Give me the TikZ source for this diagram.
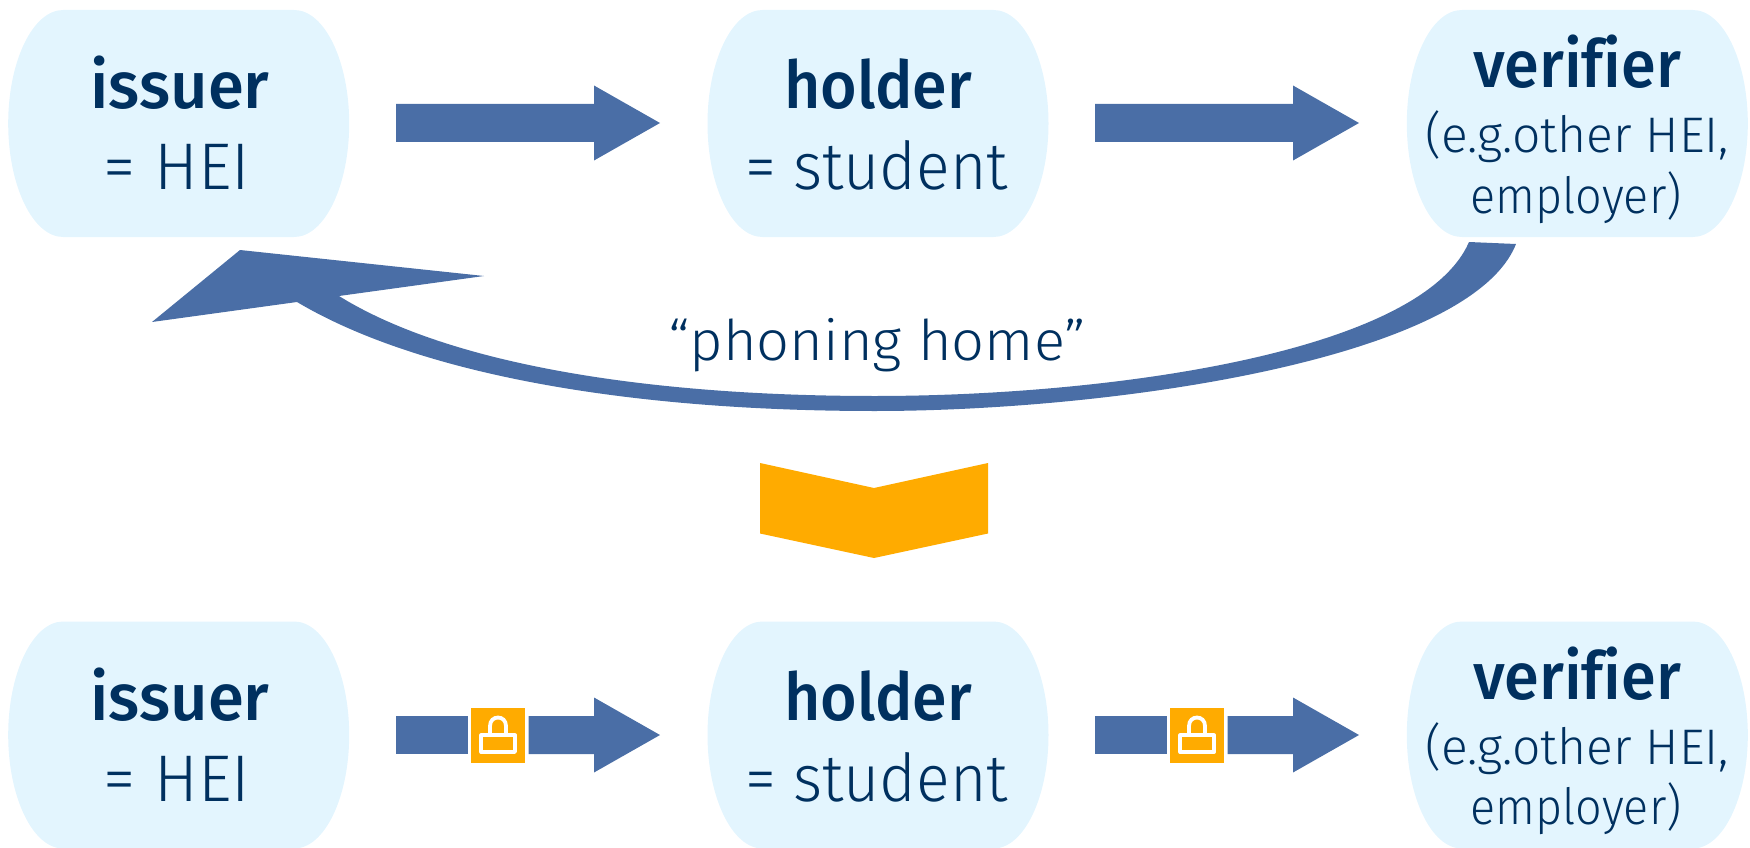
\documentclass[tikz,border=0pt]{standalone}
\usepackage{fontspec}
\setmainfont{Fira Sans Light}[Ligatures=NoCommon]
\newfontfamily\medfont{Fira Sans Medium}[Ligatures=NoCommon]
\definecolor{boxfill}{HTML}{E3F5FE}
\definecolor{navy}{HTML}{00305F}
\definecolor{arrowblue}{HTML}{4A6EA6}
\definecolor{amber}{HTML}{FFAB00}
\newcommand{\fit}[2]{\resizebox{#1pt}{\height}{#2}}
\tikzset{
  lbl/.style={anchor=base,inner sep=0pt,text=navy},
  big/.style={lbl,font=\fontsize{66}{70}\selectfont},
  bigbold/.style={lbl,font=\fontsize{66}{70}\selectfont\medfont},
  small/.style={lbl,font=\fontsize{50}{60}\selectfont},
  phone/.style={lbl,font=\fontsize{56}{60}\selectfont},
  softbox/.pic={
    \fill[boxfill] (-115.5,-113.5) -- (115.5,-113.5)
      .. controls (146,-113.5) and (170.5,-62) .. (170.5,0)
      .. controls (170.5,62) and (146,113.5) .. (115.5,113.5)
      -- (-115.5,113.5)
      .. controls (-146,113.5) and (-170.5,62) .. (-170.5,0)
      .. controls (-170.5,-62) and (-146,-113.5) .. (-115.5,-113.5) -- cycle;
  },
  plainarrow/.pic={
    \fill[arrowblue] (0,-19) -- (198,-19) -- (198,-37.5) -- (264,0) -- (198,37.5) -- (198,19) -- (0,19) -- cycle;
  },
  lockarrow/.pic={
    \fill[arrowblue] (0,-19) -- (71.7,-19) -- (71.7,19) -- (0,19) -- cycle;
    \fill[arrowblue] (132.7,-19) -- (198,-19) -- (198,-37.5) -- (264,0) -- (198,37.5) -- (198,19) -- (132.7,19) -- cycle;
    \fill[amber] (75.3,-27.5) rectangle (129,27.5);
    \draw[white,line width=3.8pt,line join=round] (85.3,0.3) rectangle (119,17);
    \draw[white,line width=3.8pt] (94,0.3) -- (94,-9)
      .. controls (94,-20.3) and (110,-20.3) .. (110,-9) -- (110,0.3);
  }
}
\begin{document}
\begin{tikzpicture}[x=1pt,y=-1pt]
\useasboundingbox (0,0) rectangle (1750,848);
% boxes
\pic at (178.7,123.5) {softbox};
\pic at (878,123.5) {softbox};
\pic at (1577.3,123.5) {softbox};
\pic at (178.7,735) {softbox};
\pic at (878,735) {softbox};
\pic at (1577.3,735) {softbox};
% arrows
\pic at (396,123) {plainarrow};
\pic at (1095,123) {plainarrow};
\pic at (396,735) {lockarrow};
\pic at (1095,735) {lockarrow};
% return arrow
\fill[arrowblue] (1469,242) .. controls (1420,355) and (1100,396) .. (875,396)
  .. controls (650,396) and (450,365) .. (339,296)
  -- (484,276) -- (240,250) -- (152,322) -- (297,302)
  .. controls (420,375) and (630,411) .. (875,411)
  .. controls (1110,411) and (1470,360) .. (1516,244) -- cycle;
% chevron
\fill[amber] (760,463) -- (874,488) -- (988,463) -- (988,533.5) -- (874,558) -- (760,533.5) -- cycle;
% texts top
\node[bigbold] (issuerA) at (180,108.3) {\fit{179}{issuer}};
\node[big] (heiA) at (177,189.5) {\fit{146}{= HEI}};
\node[bigbold] (holderA) at (878,108.3) {\fit{188}{holder}};
\node[big] (studentA) at (876.5,189.5) {\fit{263}{= student}};
\node[bigbold] (verifierA) at (1577,87.3) {\fit{208}{verifier}};
\node[small] (egA) at (1577,152.7) {\fit{304}{(e.g.other HEI,}};
\node[small] (empA) at (1576,213) {\fit{211}{employer)}};
\node[phone] (phoning) at (877,360) {\fit{418}{“phoning home”}};
% texts bottom
\node[bigbold] (issuerB) at (180,720) {\fit{179}{issuer}};
\node[big] (heiB) at (177,801.2) {\fit{146}{= HEI}};
\node[bigbold] (holderB) at (878,720) {\fit{188}{holder}};
\node[big] (studentB) at (876.5,801.2) {\fit{263}{= student}};
\node[bigbold] (verifierB) at (1577,699) {\fit{208}{verifier}};
\node[small] (egB) at (1577,764.4) {\fit{304}{(e.g.other HEI,}};
\node[small] (empB) at (1576,824.7) {\fit{211}{employer)}};
\end{tikzpicture}
\end{document}
